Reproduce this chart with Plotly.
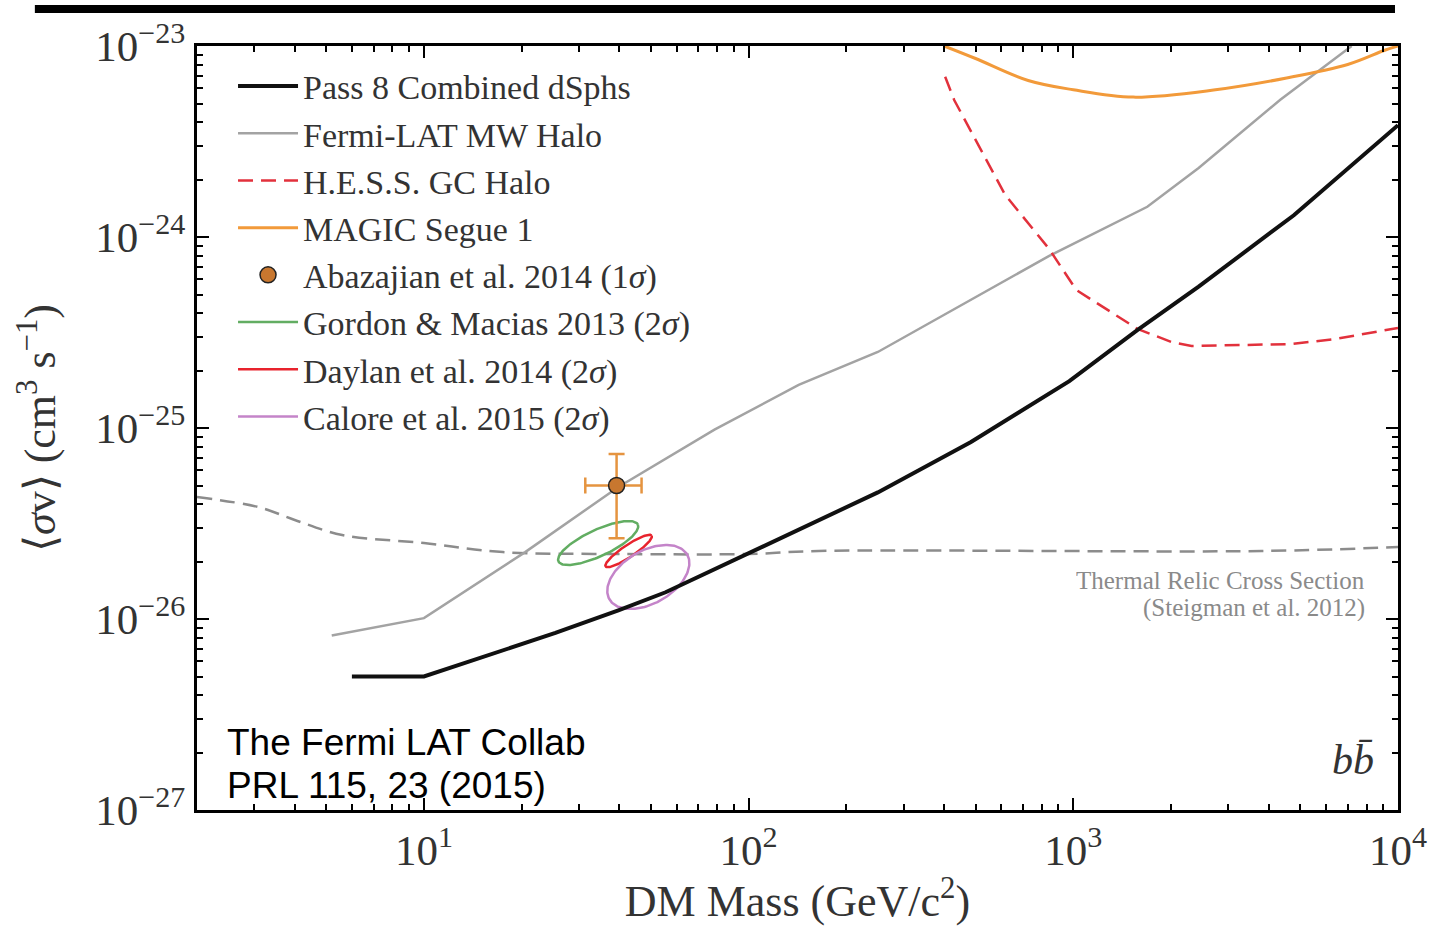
import numpy as np
import plotly.graph_objects as go

# ---------------- data ----------------
pass8_mass = [6, 10, 25.4, 39.7, 55.5, 100, 250, 484, 972, 1578, 2432, 4777, 10000]
pass8_sv = [5.0e-27, 5.0e-27, 8.45e-27, 1.11e-26, 1.38e-26, 2.2e-26, 4.6e-26,
            8.45e-26, 1.76e-25, 3.26e-25, 5.5e-25, 1.30e-24, 3.85e-24]

mwhalo_mass = [5.2, 10, 20.5, 39.7, 78.5, 142.6, 250, 843, 1690, 2432, 4330, 7200]
mwhalo_sv = [8.2e-27, 1.01e-26, 2.24e-26, 4.91e-26, 9.8e-26, 1.68e-25, 2.5e-25, 7.96e-25,
             1.44e-24, 2.30e-24, 5.21e-24, 1.0e-23]

hess_mass = [403, 430, 617, 843, 1021, 1577, 2006, 2313, 4645, 6396, 10000]
hess_sv = [6.9e-24, 5.2e-24, 1.66e-24, 8.65e-25, 5.28e-25, 3.30e-25, 2.82e-25, 2.69e-25,
           2.75e-25, 2.92e-25, 3.34e-25]

magic_mass = [400, 500, 726, 1000, 1530, 2740, 4540, 7000, 9100, 10000]
magic_sv = [1.0e-23, 8.6e-24, 6.6e-24, 5.9e-24, 5.4e-24, 5.9e-24, 6.8e-24, 8.0e-24, 9.5e-24, 1.0e-23]

thermal_mass = [2, 3.1, 4.0, 5.6, 10, 17.5, 40, 100, 164, 3800, 10000]
thermal_sv = [4.35e-26, 3.85e-26, 3.3e-26, 2.75e-26, 2.5e-26, 2.24e-26, 2.19e-26, 2.19e-26,
              2.27e-26, 2.27e-26, 2.38e-26]

abaz_mass = [39.2]
abaz_sv = [5.0e-26]
abaz_mass_err_minus = [7.8]
abaz_mass_err_plus = [7.6]
abaz_sv_err_minus = [2.35e-26]
abaz_sv_err_plus = [2.3e-26]

# ellipses: centre (GeV, cm^3/s) and two conjugate semi-axes in decades (dlog10 m, dlog10 sv)
ell_names = ["Gordon & Macias 2013 (2<i>σ</i>)", "Daylan et al. 2014 (2<i>σ</i>)", "Calore et al. 2015 (2<i>σ</i>)"]
ell_center_mass = [34.4, 42.7, 49.1]
ell_center_sv = [2.50e-26, 2.27e-26, 1.66e-26]
ell_major = [(0.1222, 0.0967), (0.0709, 0.0811), (0.1197, 0.1173)]
ell_minor = [(0.0172, -0.0626), (0.0104, -0.0260), (0.0407, -0.1197)]
ell_colors = ["#62ad62", "#e8232d", "#c484c9"]

legend_labels = ["Pass 8 Combined dSphs", "Fermi-LAT MW Halo", "H.E.S.S. GC Halo",
                 "MAGIC Segue 1", "Abazajian et al. 2014 (1<i>σ</i>)"]

x_tickvals = [10, 100, 1000, 10000]
x_ticktext = ["10<sup>1</sup>", "10<sup>2</sup>", "10<sup>3</sup>", "10<sup>4</sup>"]
y_tickvals = [1e-27, 1e-26, 1e-25, 1e-24, 1e-23]
y_ticktext = ["10<sup>−27</sup>", "10<sup>−26</sup>", "10<sup>−25</sup>", "10<sup>−24</sup>", "10<sup>−23</sup>"]
minor_mantissas = [2, 3, 4, 5, 6, 7, 8, 9]
x_minor_decades = [1, 10, 100, 1000]
y_minor_decades = [1e-27, 1e-26, 1e-25, 1e-24]
x_minor = [m * d for d in x_minor_decades for m in minor_mantissas]
y_minor = [m * d for d in y_minor_decades for m in minor_mantissas]

SERIF = "Liberation Serif"

fig = go.Figure()

fig.add_trace(go.Scatter(x=thermal_mass, y=thermal_sv, mode="lines", showlegend=False,
                         line=dict(color="#8c8c8c", width=2.5, dash="15px,8px"), line_shape="spline"))
fig.add_trace(go.Scatter(x=mwhalo_mass, y=mwhalo_sv, mode="lines", name=legend_labels[1], legendrank=2,
                         line=dict(color="#a3a3a3", width=2.5)))
fig.add_trace(go.Scatter(x=hess_mass, y=hess_sv, mode="lines", name=legend_labels[2], legendrank=3,
                         line=dict(color="#e2313c", width=2.5, dash="15px,8px")))
fig.add_trace(go.Scatter(x=magic_mass, y=magic_sv, mode="lines", name=legend_labels[3], legendrank=4,
                         line=dict(color="#f29a3a", width=3), line_shape="spline"))

t = np.linspace(0, 2 * np.pi, 181)
for i in range(3):
    lx = np.log10(ell_center_mass[i]) + ell_major[i][0] * np.cos(t) + ell_minor[i][0] * np.sin(t)
    ly = np.log10(ell_center_sv[i]) + ell_major[i][1] * np.cos(t) + ell_minor[i][1] * np.sin(t)
    fig.add_trace(go.Scatter(x=10 ** lx, y=10 ** ly, mode="lines", name=ell_names[i], legendrank=6 + i,
                             line=dict(color=ell_colors[i], width=2.5)))

fig.add_trace(go.Scatter(x=pass8_mass, y=pass8_sv, mode="lines", name=legend_labels[0], legendrank=1,
                         line=dict(color="#111111", width=4)))

fig.add_trace(go.Scatter(
    x=abaz_mass, y=abaz_sv, mode="markers", name=legend_labels[4], legendrank=5,
    marker=dict(size=16, color="#c8772f", line=dict(color="#222222", width=1.5)),
    error_x=dict(type="data", symmetric=False, array=abaz_mass_err_plus, arrayminus=abaz_mass_err_minus,
                 color="#e59440", thickness=2.5, width=8),
    error_y=dict(type="data", symmetric=False, array=abaz_sv_err_plus, arrayminus=abaz_sv_err_minus,
                 color="#e59440", thickness=2.5, width=8)))

axis_common = dict(showline=True, linecolor="black", linewidth=3, mirror="ticks", showgrid=False,
                   zeroline=False, ticks="inside", ticklen=12, tickwidth=2, tickcolor="black",
                   automargin=False, tickmode="array",
                   tickfont=dict(family=SERIF, size=43, color="#333333"))

fig.update_xaxes(type="log", range=[np.log10(2), 4],
                 tickvals=x_tickvals, ticktext=x_ticktext,
                 minor=dict(tickmode="array", tickvals=x_minor, ticks="inside", ticklen=6, tickwidth=1.5,
                            tickcolor="black", showgrid=False),
                 title=dict(text="DM Mass (GeV/c<sup>2</sup>)", font=dict(family=SERIF, size=44, color="#333333"),
                            standoff=4),
                 **axis_common)
fig.update_yaxes(type="log", range=[-27, -23],
                 tickvals=y_tickvals, ticktext=y_ticktext,
                 minor=dict(tickmode="array", tickvals=y_minor, ticks="inside", ticklen=6, tickwidth=1.5,
                            tickcolor="black", showgrid=False),
                 title=dict(text="⟨<i>σ</i>v⟩ (cm<sup>3</sup> s<sup>−1</sup>)",
                            font=dict(family=SERIF, size=44, color="#333333"), standoff=26),
                 **axis_common)

fig.add_annotation(xref="paper", yref="paper", x=0.974, y=0.3010, xanchor="right", yanchor="middle",
                   text="Thermal Relic Cross Section", showarrow=False, height=27,
                   font=dict(family=SERIF, size=25, color="#8a8a8a"))
fig.add_annotation(xref="paper", yref="paper", x=0.974, y=0.2657, xanchor="right", yanchor="middle",
                   text="(Steigman et al. 2012)", showarrow=False, height=27,
                   font=dict(family=SERIF, size=25, color="#8a8a8a"))
fig.add_annotation(xref="paper", yref="paper", x=0.982, y=0.065, xanchor="right", yanchor="middle",
                   text="<i>bb̄</i>", showarrow=False, font=dict(family=SERIF, size=42, color="#333333"))
fig.add_annotation(xref="paper", yref="paper", x=0.0233, y=0.0890, xanchor="left", yanchor="middle",
                   text="The Fermi LAT Collab", align="left", height=43,
                   showarrow=False, font=dict(family="Liberation Sans", size=37, color="black"))
fig.add_annotation(xref="paper", yref="paper", x=0.0233, y=0.0327, xanchor="left", yanchor="middle",
                   text="PRL 115, 23 (2015)", align="left", height=43,
                   showarrow=False, font=dict(family="Liberation Sans", size=37, color="black"))

fig.add_shape(type="rect", xref="paper", yref="paper", x0=-0.135, x1=0.9975, y0=1.0432, y1=1.0537,
              fillcolor="black", line=dict(width=0))

fig.update_layout(
    width=1435, height=926,
    margin=dict(l=197, r=37, t=46, b=116),
    paper_bgcolor="white", plot_bgcolor="white",
    legend=dict(x=0.030, y=0.985, xanchor="left", yanchor="top", bgcolor="rgba(0,0,0,0)",
                font=dict(family=SERIF, size=34, color="#333333"), itemwidth=60, tracegroupgap=4),
    showlegend=True,
)

fig.write_html("out.html")
